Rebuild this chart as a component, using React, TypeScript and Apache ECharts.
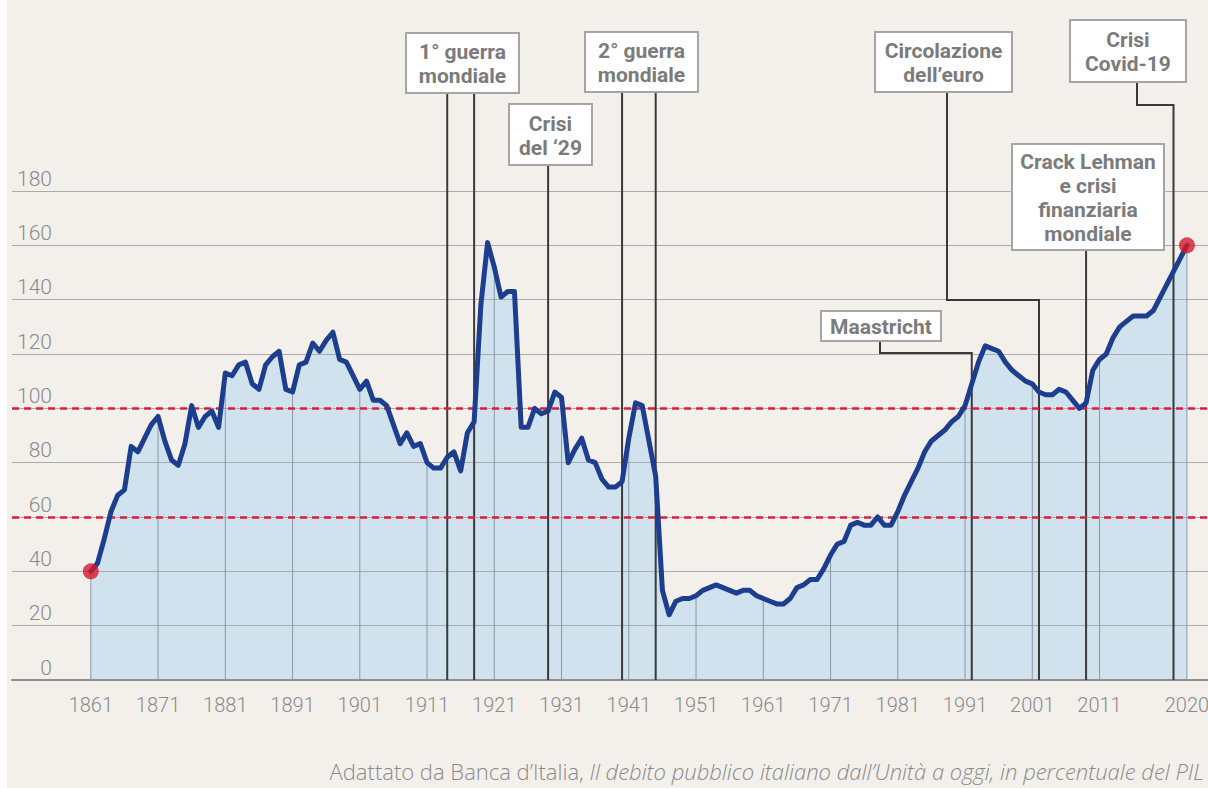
import React, { useEffect, useRef } from "react";
import * as echarts from "echarts";

// Debito pubblico italiano, % del PIL — annual readings 1861..2019
const annualStart = 1861;
const debtAnnual = [
  40, 43, 52, 62, 68, 70, 86, 84, 89, 94, // 1861-1870
  97, 88, 81, 79, 87, 101, 93, 97, 99, 93, // 1871-1880
  113, 112, 116, 117, 109, 107, 116, 119, 121, 107, // 1881-1890
  106, 116, 117, 124, 121, 125, 128, 118, 117, 112, // 1891-1900
  107, 110, 103, 103, 101, 94, 87, 91, 86, 87, // 1901-1910
  80, 78, 78, 82, 84, 77, 91, 95, 138, 161, // 1911-1920
  152, 141, 143, 143, 93, 93, 100, 98, 99, 106, // 1921-1930
  104, 80, 85, 89, 81, 80, 74, 71, 71, 73, // 1931-1940
  89, 102, 101, 88, 75, 33, 24, 29, 30, 30, // 1941-1950
  31, 33, 34, 35, 34, 33, 32, 33, 33, 31, // 1951-1960
  30, 29, 28, 28, 30, 34, 35, 37, 37, 41, // 1961-1970
  46, 50, 51, 57, 58, 57, 57, 60, 57, 57, // 1971-1980
  62, 68, 73, 78, 84, 88, 90, 92, 95, 97, // 1981-1990
  101, 109, 117, 123, 122, 121, 117, 114, 112, 110, // 1991-2000
  109, 106, 105, 105, 107, 106, 103, 100, 102, 114, // 2001-2010
  118, 120, 126, 130, 132, 134, 134, 134, 136, // 2011-2019
];
// last point: drawn at the position of the "2020" tick of the reference axis
const finalYear = 2024;
const finalValue = 160;

const years = [...debtAnnual.map((_, i) => annualStart + i), finalYear];
const debt = [...debtAnnual, finalValue];

const tickYears = [1861, 1871, 1881, 1891, 1901, 1911, 1921, 1931, 1941, 1951, 1961, 1971, 1981, 1991, 2001, 2011, 2024];
const tickLabels = ["1861", "1871", "1881", "1891", "1901", "1911", "1921", "1931", "1941", "1951", "1961", "1971", "1981", "1991", "2001", "2011", "2020"];
const thresholds = [100, 60];

const annotationTexts = [
  "1° guerra\nmondiale",
  "Crisi\ndel ‘29",
  "2° guerra\nmondiale",
  "Maastricht",
  "Circolazione\ndell’euro",
  "Crack Lehman\ne crisi\nfinanziaria\nmondiale",
  "Crisi\nCovid-19",
];
const annotationYears = [[1914, 1918], [1929], [1940, 1945], [1992], [2002], [2009], [2022]];

const sourceNormal = "Adattato da Banca d’Italia, ";
const sourceItalic = "Il debito pubblico italiano dall’Unità a oggi, in percentuale del PIL";

// layout of annotation boxes (pixels)
const boxLayout: any[] = [
  { x: 406, y: 33, w: 113, h: 60 },
  { x: 509, y: 104, w: 83, h: 61 },
  { x: 585, y: 32, w: 113, h: 60 },
  { x: 821, y: 311, w: 120, h: 30, stemX: 880, elbowY: 353 },
  { x: 875, y: 32, w: 137, h: 60, stemX: 947, elbowY: 300 },
  { x: 1012, y: 144, w: 152, h: 106 },
  { x: 1070, y: 20, w: 116, h: 62, stemX: 1137, elbowY: 105 },
];

const FONT = "Roboto, 'Noto Sans', sans-serif";
const FOOT_FONT = "'Open Sans', Roboto, sans-serif";
const GREY_TEXT = "#8a8a8a";

export default function App() {
  const ref = useRef<HTMLDivElement>(null);

  useEffect(() => {
    const chart = echarts.init(ref.current as HTMLDivElement, null, { renderer: "svg" });
    const pairs = years.map((y, i) => [y, debt[i]]);
    const gridData = tickYears.map((y) => [y, debt[years.indexOf(y)]]);

    const option: any = {
      animation: false,
      backgroundColor: "#f3f0ec",
      grid: { left: 12, right: 0, top: 191, bottom: 108, containLabel: false, outerBoundsMode: "none" },
      xAxis: {
        type: "value",
        min: 1849.28,
        max: 2027.13,
        z: 2,
        axisLine: { show: true, onZero: false, lineStyle: { color: "#909090", width: 2 } },
        axisTick: { show: false, customValues: tickYears },
        splitLine: { show: false },
        axisLabel: {
          customValues: tickYears,
          formatter: (v: number) => {
            const k = tickYears.indexOf(v);
            return k >= 0 ? tickLabels[k] : "";
          },
          color: GREY_TEXT,
          fontSize: 20,
          fontFamily: FONT,
          fontWeight: 300,
          margin: 15,
        },
      },
      yAxis: {
        type: "value",
        min: 0,
        max: 180,
        interval: 20,
        z: 2,
        axisLine: { show: false },
        axisTick: { show: false },
        splitLine: { lineStyle: { color: "#ababab", width: 1 } },
        axisLabel: {
          inside: true,
          margin: 40,
          align: "right",
          verticalAlign: "bottom",
          padding: [0, 0, 2, 0],
          color: GREY_TEXT,
          fontSize: 21,
          fontFamily: FONT,
          fontWeight: 300,
        },
      },
      series: [
        {
          name: "area",
          type: "line",
          data: pairs,
          showSymbol: false,
          z: 1,
          silent: true,
          lineStyle: { width: 0, opacity: 0 },
          areaStyle: { color: "#cfe2ee", opacity: 1 },
          markLine: {
            z: 4,
            silent: true,
            symbol: "none",
            label: { show: false },
            lineStyle: { color: "#d81f3f", type: [7, 5], width: 2.5 },
            data: thresholds.map((v) => ({ yAxis: v })),
          },
        },
        {
          name: "vgrid",
          type: "custom",
          z: 2,
          silent: true,
          data: gridData,
          renderItem: (params: any, api: any) => {
            const top = api.coord([api.value(0), api.value(1)]);
            const bot = api.coord([api.value(0), 0]);
            return {
              type: "line",
              shape: { x1: top[0], y1: top[1], x2: bot[0], y2: bot[1] },
              style: { stroke: "#8a98a7", lineWidth: 1 },
            };
          },
        },
        {
          name: "Debito/PIL",
          type: "line",
          data: pairs,
          showSymbol: false,
          z: 6,
          silent: true,
          lineStyle: { color: "#1d3e8e", width: 5, join: "round", cap: "round" },
        },
        {
          name: "estremi",
          type: "scatter",
          z: 7,
          silent: true,
          symbolSize: 16,
          itemStyle: { color: "#d7192b" },
          data: [pairs[0], pairs[pairs.length - 1]],
        },
      ],
    };
    chart.setOption(option);

    const base = chart.convertToPixel({ gridIndex: 0 }, [1900, 0]) as number[];
    const baseY = base[1];
    const elements: any[] = [
      { type: "rect", shape: { x: 0, y: 0, width: 7, height: 788 }, style: { fill: "#ffffff" }, z: 0, silent: true },
    ];
    annotationYears.forEach((ys, i) => {
      const b = boxLayout[i];
      ys.forEach((yr) => {
        const px = (chart.convertToPixel({ gridIndex: 0 }, [yr, 0]) as number[])[0];
        const pts =
          b.stemX != null
            ? [[b.stemX, b.y + b.h], [b.stemX, b.elbowY], [px, b.elbowY], [px, baseY]]
            : [[px, b.y + b.h], [px, baseY]];
        elements.push({
          type: "polyline",
          shape: { points: pts },
          style: { stroke: "#3a3a3a", lineWidth: 2, fill: null },
          z: 3,
          silent: true,
        });
      });
      elements.push({
        type: "rect",
        shape: { x: b.x, y: b.y, width: b.w, height: b.h },
        style: { fill: "#ffffff", stroke: "#a5a5a5", lineWidth: 2 },
        z: 20,
        silent: true,
      });
      elements.push({
        type: "text",
        x: b.x + b.w / 2,
        y: b.y + b.h / 2 + 1,
        style: {
          text: annotationTexts[i],
          align: "center",
          verticalAlign: "middle",
          fontSize: 21,
          fontWeight: "bold",
          fontFamily: FONT,
          lineHeight: 24,
          fill: "#7b7b7b",
        },
        z: 21,
        silent: true,
      });
    });
    elements.push({
      type: "text",
      x: 1204,
      y: 771,
      style: {
        text: `{n|${sourceNormal}}{i|${sourceItalic}}`,
        align: "right",
        verticalAlign: "middle",
        rich: {
          n: { fontSize: 22, lineHeight: 26, fontFamily: FOOT_FONT, fontWeight: 300, fill: GREY_TEXT },
          i: { fontSize: 22, lineHeight: 26, fontFamily: FOOT_FONT, fontWeight: 300, fontStyle: "italic", fill: GREY_TEXT },
        },
      },
      z: 21,
      silent: true,
    });
    chart.setOption({ graphic: { elements } });

    return () => chart.dispose();
  }, []);

  return <div ref={ref} style={{ position: "fixed", left: 0, top: 0, width: 1208, height: 788 }} />;
}
